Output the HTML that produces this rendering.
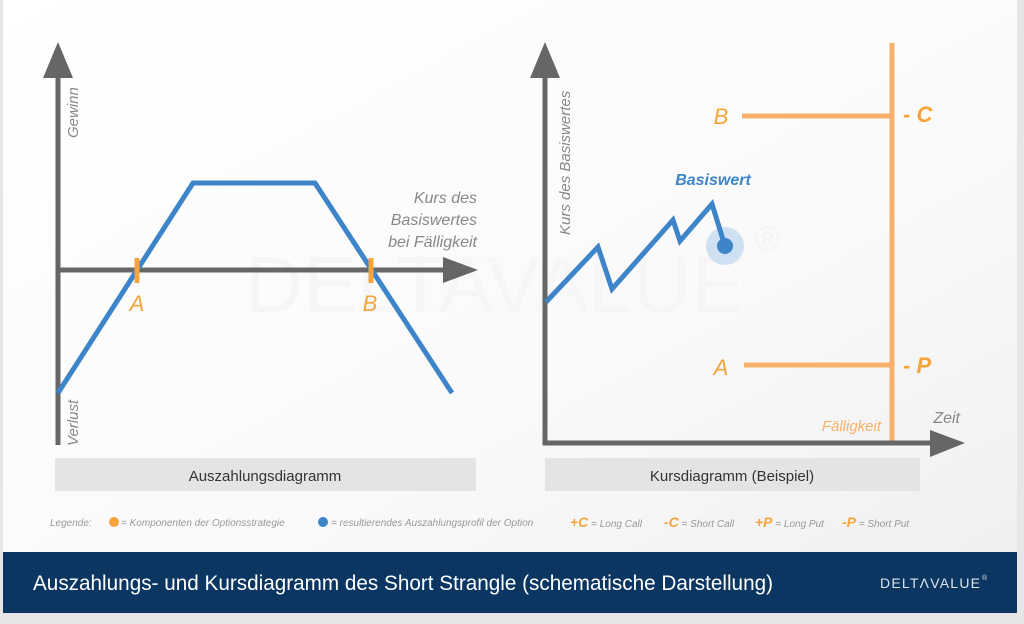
<!DOCTYPE html>
<html><head><meta charset="utf-8"><style>
html,body{margin:0;padding:0;}
body{width:1024px;height:619px;overflow:hidden;background:#e6e6e6;font-family:"Liberation Sans",sans-serif;}
</style></head><body>
<svg width="1024" height="619" viewBox="0 0 1024 619" xmlns="http://www.w3.org/2000/svg" font-family="Liberation Sans, sans-serif">
<defs>
<linearGradient id="bg" x1="0" y1="0" x2="1" y2="1">
<stop offset="0" stop-color="#ffffff"/><stop offset="0.6" stop-color="#fafafa"/><stop offset="1" stop-color="#f0f0f0"/>
</linearGradient>
</defs>
<rect x="3" y="0" width="1014" height="552" fill="url(#bg)"/>
<!-- watermark -->
<text x="245" y="312" font-size="80" fill="#f6f6f6" textLength="500" lengthAdjust="spacingAndGlyphs">DELTAVALUE</text>
<text x="755" y="250" font-size="34" fill="#f4f4f4">®</text>
<!-- left chart -->
<line x1="58" y1="70" x2="58" y2="445" stroke="#666" stroke-width="5"/>
<polygon points="58,42 43,78 73,78" fill="#666"/>
<line x1="58" y1="270" x2="448" y2="270" stroke="#666" stroke-width="5"/>
<polygon points="478,270 443,257 443,283" fill="#666"/>
<polyline points="58,393 193,183 315,183 452,393" fill="none" stroke="#3e84c8" stroke-width="5"/>
<line x1="137" y1="258" x2="137" y2="283" stroke="#f7a33c" stroke-width="5"/>
<line x1="371" y1="258" x2="371" y2="283" stroke="#f7a33c" stroke-width="5"/>
<text x="137" y="311" font-size="22" font-style="italic" fill="#f7a33c" text-anchor="middle">A</text>
<text x="370" y="311" font-size="22" font-style="italic" fill="#f7a33c" text-anchor="middle">B</text>
<text x="477" y="203" font-size="16" font-style="italic" fill="#888" text-anchor="end">Kurs des</text>
<text x="477" y="225" font-size="16" font-style="italic" fill="#888" text-anchor="end">Basiswertes</text>
<text x="477" y="247" font-size="16" font-style="italic" fill="#888" text-anchor="end">bei Fälligkeit</text>
<text transform="translate(78,138) rotate(-90)" font-size="15" font-style="italic" fill="#888">Gewinn</text>
<text transform="translate(78,446) rotate(-90)" font-size="15" font-style="italic" fill="#888">Verlust</text>
<rect x="55" y="458" width="421" height="33" fill="#e4e4e4"/>
<text x="265" y="481" font-size="15" fill="#333" text-anchor="middle">Auszahlungsdiagramm</text>
<!-- right chart -->
<line x1="892" y1="43" x2="892" y2="441" stroke="#f9b06a" stroke-width="5"/>
<line x1="742" y1="116" x2="892" y2="116" stroke="#f9b06a" stroke-width="5"/>
<line x1="744" y1="365" x2="892" y2="365" stroke="#f9b06a" stroke-width="5"/>
<text x="721" y="124" font-size="22" font-style="italic" fill="#f7a33c" text-anchor="middle">B</text>
<text x="721" y="375" font-size="22" font-style="italic" fill="#f7a33c" text-anchor="middle">A</text>
<text x="903" y="122" font-size="22" font-style="italic" font-weight="bold" fill="#f7a33c">- C</text>
<text x="903" y="373" font-size="22" font-style="italic" font-weight="bold" fill="#f7a33c">- P</text>
<text x="881" y="431" font-size="15" font-style="italic" fill="#f9b06a" text-anchor="end">Fälligkeit</text>
<text x="960" y="423" font-size="16" font-style="italic" fill="#888" text-anchor="end">Zeit</text>
<line x1="545" y1="70" x2="545" y2="445" stroke="#666" stroke-width="5"/>
<polygon points="545,42 530,78 560,78" fill="#666"/>
<line x1="543" y1="443" x2="935" y2="443" stroke="#666" stroke-width="5"/>
<polygon points="965,443 930,430 930,457" fill="#666"/>
<text transform="translate(570,235) rotate(-90)" font-size="15" font-style="italic" fill="#888">Kurs des Basiswertes</text>
<circle cx="725" cy="246" r="19" fill="#cfe0f2"/>
<polyline points="546,302 598,247 612,289 673,220 680,241 712,204 725,246" fill="none" stroke="#3e84c8" stroke-width="5" stroke-linejoin="miter"/>
<circle cx="725" cy="246" r="8" fill="#3e84c8"/>
<text x="713" y="185" font-size="16" font-style="italic" font-weight="bold" fill="#3e84c8" text-anchor="middle">Basiswert</text>
<rect x="545" y="458" width="375" height="33" fill="#e4e4e4"/>
<text x="732" y="481" font-size="15" fill="#333" text-anchor="middle">Kursdiagramm (Beispiel)</text>
<!-- legend -->
<g font-size="10" font-style="italic" fill="#999">
<text x="50" y="526">Legende:</text>
<circle cx="114" cy="522" r="5" fill="#f7a33c"/>
<text x="121" y="526">= Komponenten der Optionsstrategie</text>
<circle cx="323" cy="522" r="5" fill="#3e84c8"/>
<text x="331" y="526">= resultierendes Auszahlungsprofil der Option</text>
<text x="570" y="527"><tspan font-size="14" font-weight="bold" fill="#f7a33c">+C</tspan> = Long Call</text>
<text x="664" y="527"><tspan font-size="14" font-weight="bold" fill="#f7a33c">-C</tspan> = Short Call</text>
<text x="755" y="527"><tspan font-size="14" font-weight="bold" fill="#f7a33c">+P</tspan> = Long Put</text>
<text x="842" y="527"><tspan font-size="14" font-weight="bold" fill="#f7a33c">-P</tspan> = Short Put</text>
</g>
<!-- footer -->
<rect x="3" y="552" width="1014" height="61" fill="#0b3661"/>
<text x="33" y="590" font-size="21" fill="#fff" textLength="740" lengthAdjust="spacingAndGlyphs">Auszahlungs- und Kursdiagramm des Short Strangle (schematische Darstellung)</text>
<text x="880" y="588" font-size="14" fill="#dde4ec" textLength="100" lengthAdjust="spacing">DELTΛVALUE</text>
<text x="982" y="580" font-size="7" fill="#dde4ec">®</text>
</svg>
</body></html>
